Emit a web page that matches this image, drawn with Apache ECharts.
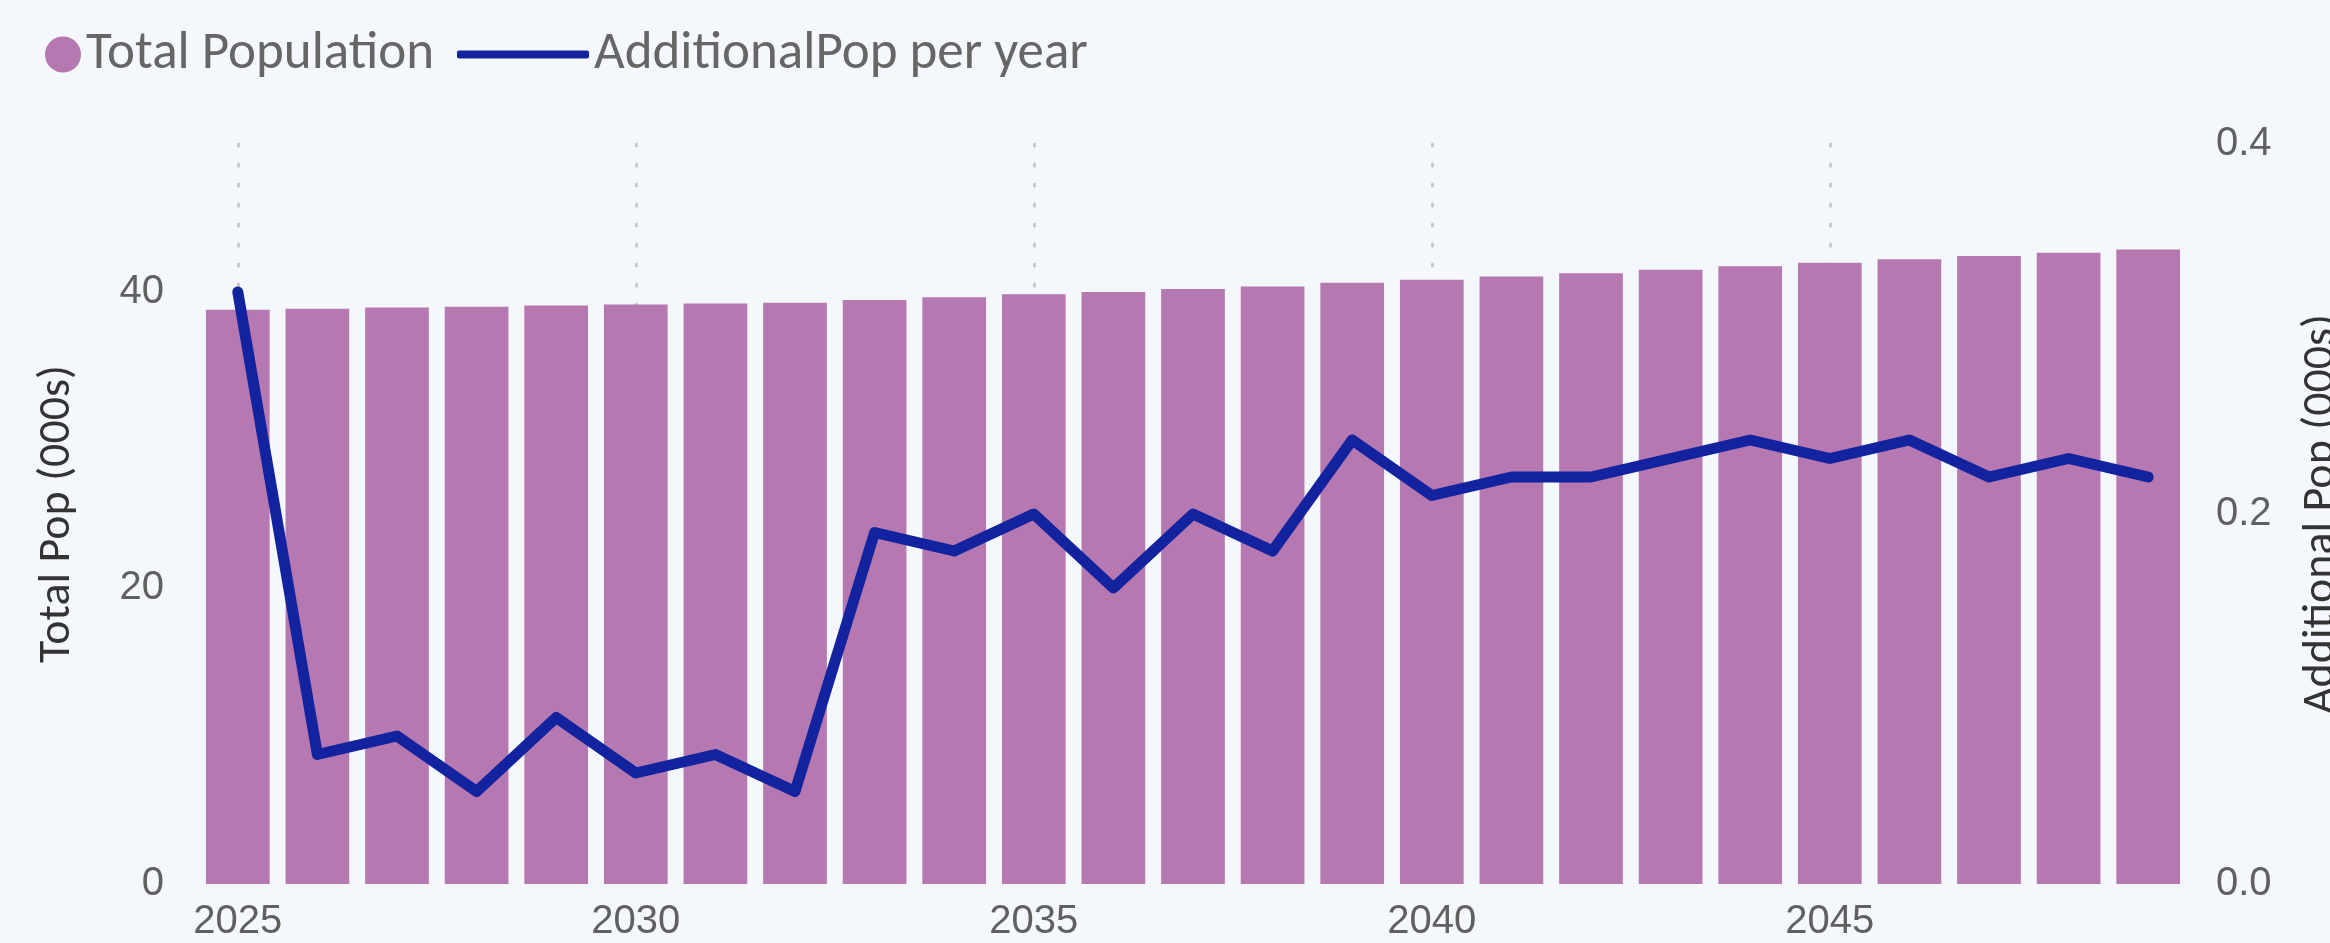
<!DOCTYPE html>
<html>
<head>
<meta charset="utf-8">
<script src="https://cdn.jsdelivr.net/npm/echarts@6/dist/echarts.min.js"></script>
<style>
  html, body { margin: 0; padding: 0; background: #f4f7fc; }
  #chart { width: 2330px; height: 943px; }
</style>
</head>
<body>
<div id="chart"></div>
<script>
// data
const years = ['2025', '2026', '2027', '2028', '2029', '2030', '2031', '2032', '2033', '2034',
  '2035', '2036', '2037', '2038', '2039', '2040', '2041', '2042', '2043', '2044',
  '2045', '2046', '2047', '2048', '2049']
const totalPop = [38.8, 38.87, 38.95, 39.0, 39.09, 39.15, 39.22, 39.27, 39.46, 39.64,
  39.84, 40.0, 40.2, 40.38, 40.62, 40.83, 41.05, 41.27, 41.5, 41.74,
  41.97, 42.21, 42.43, 42.66, 42.88]
const additionalPop = [0.32, 0.07, 0.08, 0.05, 0.09, 0.06, 0.07, 0.05, 0.19, 0.18,
  0.20, 0.16, 0.20, 0.18, 0.24, 0.21, 0.22, 0.22, 0.23, 0.24,
  0.23, 0.24, 0.22, 0.23, 0.22]

const textFont = 'Carlito, "Liberation Sans Narrow", "Open Sans", sans-serif'
const numFont = '"Liberation Sans", Arial, sans-serif'

const chart = echarts.init(document.getElementById('chart'))

const option = {
  backgroundColor: '#f4f7fc',
  animation: false,
  legend: [
    {
      data: ['Total Population'],
      left: 40,
      top: 23,
      icon: 'circle',
      itemWidth: 36,
      itemHeight: 36,
      textStyle: { fontSize: 53, color: '#666', fontFamily: textFont },
    },
    {
      data: ['AdditionalPop per year'],
      left: 452,
      top: 23,
      icon: 'roundRect',
      itemWidth: 132,
      itemHeight: 8,
      itemStyle: { color: '#13239f' },
      textStyle: { fontSize: 53, color: '#666', fontFamily: textFont },
    },
  ],
  grid: {
    left: 198,
    right: 142,
    top: 144,
    bottom: 59,
    outerBoundsMode: 'none',
  },
  xAxis: {
    type: 'category',
    data: years,
    axisLine: { show: false },
    axisTick: { show: false, alignWithLabel: true, interval: 4 },
    axisLabel: {
      interval: 4,
      margin: 18,
      fontSize: 40,
      color: '#606060',
      fontFamily: numFont,
    },
    splitLine: {
      show: true,
      interval: 4,
      alignWithLabel: true,
      lineStyle: { color: '#c8c8c8', width: 3, type: [2, 18], cap: 'round' },
    },
  },
  yAxis: [
    {
      type: 'value',
      min: 0,
      max: 50,
      interval: 20,
      name: 'Total Pop (000s)',
      nameLocation: 'middle',
      nameGap: 118,
      nameTextStyle: { fontSize: 46, color: '#333', fontFamily: textFont },
      axisLine: { show: false },
      axisTick: { show: false },
      splitLine: { show: false },
      axisLabel: {
        showMaxLabel: false,
        margin: 34,
        fontSize: 40,
        color: '#606060',
        fontFamily: numFont,
      },
    },
    {
      type: 'value',
      min: 0,
      max: 0.4,
      interval: 0.2,
      name: 'Additional Pop (000s)',
      nameLocation: 'middle',
      nameRotate: 90,
      nameGap: 110,
      nameTextStyle: { fontSize: 46, color: '#333', fontFamily: textFont },
      axisLine: { show: false },
      axisTick: { show: false },
      splitLine: { show: false },
      axisLabel: {
        margin: 28,
        fontSize: 40,
        color: '#606060',
        fontFamily: numFont,
        formatter: (v) => v.toFixed(1),
      },
    },
  ],
  series: [
    {
      name: 'Total Population',
      type: 'bar',
      data: totalPop,
      barCategoryGap: '20%',
      itemStyle: { color: '#b578b1' },
    },
    {
      name: 'AdditionalPop per year',
      type: 'line',
      yAxisIndex: 1,
      data: additionalPop,
      symbol: 'none',
      z: 5,
      lineStyle: { color: '#13239f', width: 11, cap: 'round', join: 'round' },
      itemStyle: { color: '#13239f' },
    },
  ],
}

chart.setOption(option)
</script>
</body>
</html>
